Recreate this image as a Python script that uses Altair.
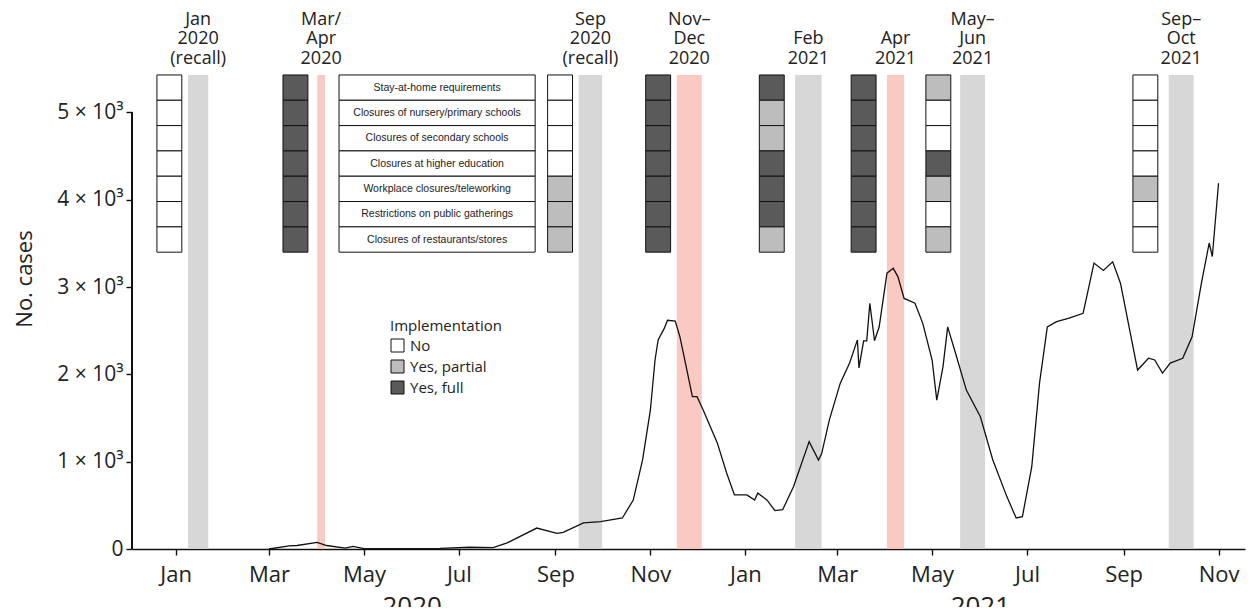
import altair as alt
import pandas as pd

# ---------------- data ----------------
case_dates = [
    "2020-03-01", "2020-03-14", "2020-03-19", "2020-04-01", "2020-04-07", "2020-04-19",
    "2020-04-24", "2020-05-01", "2020-05-24", "2020-06-19", "2020-07-08", "2020-07-23",
    "2020-08-01", "2020-08-20", "2020-09-02", "2020-09-06", "2020-09-19", "2020-09-30",
    "2020-10-14", "2020-10-21", "2020-10-27", "2020-11-01", "2020-11-04", "2020-11-06",
    "2020-11-10", "2020-11-12", "2020-11-17", "2020-11-20", "2020-11-24", "2020-11-28",
    "2020-12-01", "2020-12-05", "2020-12-14", "2020-12-20", "2020-12-25", "2021-01-02",
    "2021-01-07", "2021-01-09", "2021-01-15", "2021-01-20", "2021-01-25", "2021-02-01",
    "2021-02-11", "2021-02-17", "2021-02-19", "2021-02-24", "2021-03-03", "2021-03-09",
    "2021-03-14", "2021-03-15", "2021-03-18", "2021-03-20", "2021-03-22", "2021-03-25",
    "2021-03-28", "2021-04-02", "2021-04-06", "2021-04-09", "2021-04-13", "2021-04-20",
    "2021-04-25", "2021-05-01", "2021-05-04", "2021-05-08", "2021-05-11", "2021-05-16",
    "2021-05-23", "2021-06-01", "2021-06-09", "2021-06-18", "2021-06-24", "2021-06-28",
    "2021-07-04", "2021-07-09", "2021-07-14", "2021-07-20", "2021-07-28", "2021-08-06",
    "2021-08-13", "2021-08-19", "2021-08-25", "2021-08-30", "2021-09-10", "2021-09-17",
    "2021-09-21", "2021-09-26", "2021-10-01", "2021-10-09", "2021-10-15", "2021-10-21",
    "2021-10-26", "2021-10-28", "2021-11-01",
]
case_values = [
    0, 35, 40, 75, 40, 10,
    30, 5, 5, 8, 20, 15,
    70, 240, 180, 190, 300, 313,
    355, 560, 1020, 1590, 2165, 2395,
    2530, 2620, 2610, 2430, 2090, 1745,
    1745, 1590, 1215, 870, 620, 620,
    560, 640, 560, 440, 450, 715,
    1230, 1020, 1090, 1480, 1900, 2130,
    2395, 2075, 2385, 2385, 2815, 2385,
    2545, 3160, 3215, 3120, 2870, 2815,
    2585, 2165, 1705, 2090, 2545, 2245,
    1820, 1515, 1020, 600, 355, 370,
    940, 1900, 2545, 2605, 2645, 2700,
    3275, 3190, 3290, 3045, 2050, 2185,
    2165, 2015, 2130, 2185, 2430, 3045,
    3505, 3350, 4190,
]

period_labels = [
    "Jan\n2020\n(recall)", "Mar/\nApr\n2020", "Sep\n2020\n(recall)", "Nov–\nDec\n2020",
    "Feb\n2021", "Apr\n2021", "May–\nJun\n2021", "Sep–\nOct\n2021",
]
period_kind = ["recall", "lockdown", "recall", "lockdown", "recall", "lockdown", "recall", "recall"]
band_start = ["2020-01-09", "2020-04-01", "2020-09-16", "2020-11-18",
              "2021-02-02", "2021-04-02", "2021-05-19", "2021-09-30"]
band_end = ["2020-01-22", "2020-04-06", "2020-10-01", "2020-12-04",
            "2021-02-19", "2021-04-13", "2021-06-04", "2021-10-16"]
table_start = ["2019-12-20", "2020-03-10", "2020-08-27", "2020-10-29",
               "2021-01-10", "2021-03-10", "2021-04-27", "2021-09-07"]

measures = [
    "Stay-at-home requirements",
    "Closures of nursery/primary schools",
    "Closures of secondary schools",
    "Closures at higher education",
    "Workplace closures/teleworking",
    "Restrictions on public gatherings",
    "Closures of restaurants/stores",
]
N, P, F = "No", "Yes, partial", "Yes, full"
status = [
    [N, N, N, N, N, N, N],
    [F, F, F, F, F, F, F],
    [N, N, N, N, P, P, P],
    [F, F, F, F, F, F, F],
    [F, P, P, F, F, F, P],
    [F, F, F, F, F, F, F],
    [P, N, N, F, P, N, P],
    [N, N, N, N, P, N, N],
]
levels = [N, P, F]
level_colors = ["#ffffff", "#bdbdbd", "#5a5a5a"]

box_start, box_end = "2020-04-15", "2020-08-19"
year_labels = ["2020", "2021"]
year_dates = ["2020-06-01", "2021-06-01"]

tick_months = [(2020, m) for m in (1, 3, 5, 7, 9, 11)] + [(2021, m) for m in (1, 3, 5, 7, 9, 11)]

# ---------------- layout constants ----------------
Y_MAX = 6197          # top of the plot area in data units
HEIGHT = 541
TABLE_TOP = 5430
ROW_H = 290
HEADER_LAST_BASE = 5560   # data y of the last header line's baseline
HEADER_LINE = 223         # line height in data units (~19.5 px)

cases = pd.DataFrame({"date": case_dates, "cases": case_values})

bands = pd.DataFrame({"start": band_start, "end": band_end, "kind": period_kind, "label": period_labels})
bs = pd.to_datetime(bands["start"])
be = pd.to_datetime(bands["end"])
bands["mid"] = (bs + (be - bs) / 2).dt.strftime("%Y-%m-%dT%H:%M:%S")
bands["nlines"] = bands["label"].str.count("\n") + 1
bands["ytext"] = HEADER_LAST_BASE + (bands["nlines"] - 1) * HEADER_LINE

cells = []
for k, ts in enumerate(table_start):
    t0 = pd.Timestamp(ts)
    for i, m in enumerate(measures):
        cells.append({
            "x0": t0.strftime("%Y-%m-%d"),
            "x1": (t0 + pd.Timedelta(days=16)).strftime("%Y-%m-%d"),
            "y0": TABLE_TOP - ROW_H * i,
            "y1": TABLE_TOP - ROW_H * (i + 1),
            "status": status[k][i],
        })
cells = pd.DataFrame(cells)

b0, b1 = pd.Timestamp(box_start), pd.Timestamp(box_end)
boxes = pd.DataFrame({
    "x0": [box_start] * len(measures),
    "x1": [box_end] * len(measures),
    "xm": [(b0 + (b1 - b0) / 2).strftime("%Y-%m-%d")] * len(measures),
    "y0": [TABLE_TOP - ROW_H * i for i in range(len(measures))],
    "y1": [TABLE_TOP - ROW_H * (i + 1) for i in range(len(measures))],
    "ym": [TABLE_TOP - ROW_H * (i + 0.5) for i in range(len(measures))],
    "measure": measures,
})
years = pd.DataFrame({"date": year_dates, "label": year_labels})

# ---------------- scales / axes ----------------
FONT = "Open Sans"
x_scale = alt.Scale(type="utc",
                    domain=[alt.DateTime(year=2019, month=12, date=4, utc=True),
                            alt.DateTime(year=2021, month=11, date=18, utc=True)])
y_scale = alt.Scale(domain=[0, Y_MAX], nice=False, zero=True)

x_axis = alt.Axis(
    values=[alt.DateTime(year=y, month=m, date=1, utc=True) for y, m in tick_months],
    labelExpr="utcFormat(datum.value, '%b')", labelOverlap=False, title=None, grid=False,
    domainColor="#111", domainWidth=1.6, tickColor="#111", tickWidth=1.4, tickSize=6,
    labelPadding=9, labelFont=FONT, labelFontSize=22, labelColor="#222",
)
y_axis = alt.Axis(
    values=[0, 1000, 2000, 3000, 4000, 5000],
    labelExpr="datum.value == 0 ? '0' : (datum.value / 1000) + ' × 10³'",
    title="No. cases", titleFont=FONT, titleFontSize=22, titleFontWeight="normal",
    titleColor="#222", titlePadding=20, grid=False, domain=False,
    tickColor="#111", tickWidth=1.4, tickSize=6, labelPadding=3,
    labelFont=FONT, labelFontSize=21, labelColor="#222",
)


def X(field, **kw):
    return alt.X(field, scale=x_scale, axis=x_axis, **kw)


def Y(field, **kw):
    return alt.Y(field, scale=y_scale, axis=y_axis, **kw)


# ---------------- layers ----------------
band_layer = alt.Chart(bands).mark_rect(opacity=0.9).encode(
    x=X("start:T"),
    x2="end:T",
    y=alt.Y(datum=TABLE_TOP, scale=y_scale, axis=y_axis),
    y2=alt.datum(0),
    color=alt.condition(alt.datum.kind == "recall", alt.value("#d3d3d3"), alt.value("#f9c3ba")),
)

header_layer = alt.Chart(bands).mark_text(
    lineBreak="\n", baseline="alphabetic", align="center", font=FONT, fontSize=18,
    lineHeight=19.5, color="#222",
).encode(
    x=X("mid:T"),
    y=Y("ytext:Q"),
    text="label:N",
)

cell_layer = alt.Chart(cells).mark_rect(stroke="#111", strokeWidth=1).encode(
    x=X("x0:T"),
    x2="x1:T",
    y=Y("y0:Q"),
    y2="y1:Q",
    color=alt.Color(
        "status:N",
        scale=alt.Scale(domain=levels, range=level_colors),
        legend=alt.Legend(
            title="Implementation", orient="none", legendX=258, legendY=311,
            symbolType="square", symbolSize=169, symbolStrokeColor="#111",
            symbolStrokeWidth=1, symbolOpacity=1, padding=0,
            titleFont=FONT, titleFontSize=15, titleFontWeight="normal", titleColor="#222",
            titlePadding=4, labelFont=FONT, labelFontSize=15, labelColor="#222",
            rowPadding=4, labelOffset=5,
        ),
    ),
)

box_layer = alt.Chart(boxes).mark_rect(fill="white", stroke="#111", strokeWidth=1).encode(
    x=X("x0:T"),
    x2="x1:T",
    y=Y("y0:Q"),
    y2="y1:Q",
)
box_text = alt.Chart(boxes).mark_text(
    font="Liberation Sans", fontSize=10.5, color="#222", baseline="middle", align="center",
).encode(
    x=X("xm:T"),
    y=Y("ym:Q"),
    text="measure:N",
)

line_layer = alt.Chart(cases).mark_line(color="#111", strokeWidth=1.3).encode(
    x=X("date:T"),
    y=Y("cases:Q"),
)

y_domain = alt.Chart(cases).mark_rule(color="#111", strokeWidth=1.6).encode(
    x=alt.value(0),
    y=alt.Y(datum=0, scale=y_scale, axis=y_axis),
    y2=alt.datum(5000),
)

year_layer = alt.Chart(years).mark_text(
    font=FONT, fontSize=26, color="#222", baseline="top", align="center", dy=45,
).encode(
    x=X("date:T"),
    y=alt.Y(datum=0, scale=y_scale, axis=y_axis),
    text="label:N",
)

chart = alt.layer(
    band_layer, box_layer, box_text, cell_layer, header_layer, line_layer, y_domain, year_layer
).properties(
    width=1113, height=HEIGHT,
    autosize=alt.AutoSizeParams(type="none"),
    padding={"left": 124, "top": 0, "right": 5, "bottom": 58},
    background="white",
).configure_view(strokeWidth=0)

chart.save("out.html", embed_options={"renderer": "svg", "actions": False})
